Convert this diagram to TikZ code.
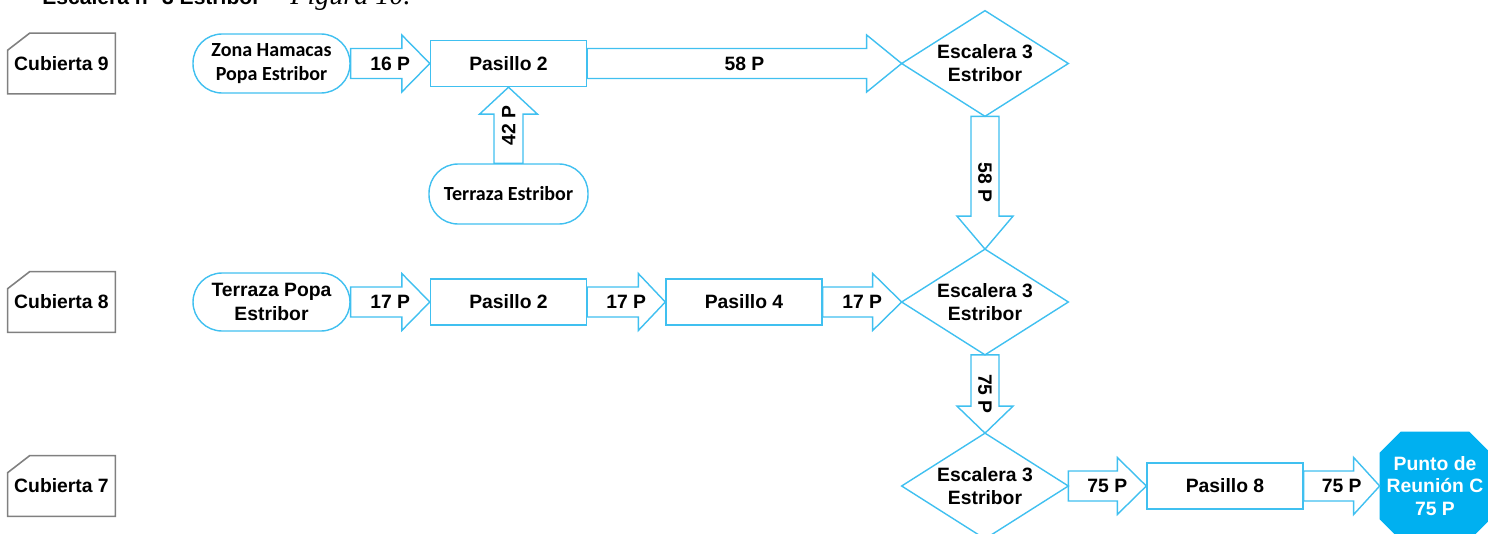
\documentclass[tikz,border=0pt]{standalone}
\usepackage{fontspec}
\setmainfont{Liberation Sans}
\newfontfamily\carlito{Carlito}
\newfontfamily\serifit{Liberation Serif}
\usetikzlibrary{calc,backgrounds}

\definecolor{flowline}{RGB}{64,192,240}
\definecolor{goalfill}{RGB}{0,176,240}
\definecolor{deckline}{RGB}{128,128,128}

% block arrow pointing right: from, to, label, head length
\newcommand\rightflow[4]{%
  \draw[flowarrow] ($(#1)+(0,-15)$) -- ($(#2)+(-#4,-15)$) -- ($(#2)+(-#4,-28.5)$) -- (#2)
    -- ($(#2)+(-#4,28.5)$) -- ($(#2)+(-#4,15)$) -- ($(#1)+(0,15)$) -- cycle;
  \path (#1) -- (#2) node[midway,flowlabel] {#3};}
% block arrow pointing down
\newcommand\downflow[4]{%
  \draw[flowarrow] ($(#1)+(-14,0)$) -- ($(#2)+(-14,-#4)$) -- ($(#2)+(-28,-#4)$) -- (#2)
    -- ($(#2)+(28,-#4)$) -- ($(#2)+(14,-#4)$) -- ($(#1)+(14,0)$) -- cycle;
  \path (#1) -- (#2) node[midway,flowlabel,rotate=-90] {#3};}
% block arrow pointing up
\newcommand\upflow[4]{%
  \draw[flowarrow] ($(#1)+(-14.5,0)$) -- ($(#2)+(-14.5,#4)$) -- ($(#2)+(-29,#4)$) -- (#2)
    -- ($(#2)+(29,#4)$) -- ($(#2)+(14.5,#4)$) -- ($(#1)+(14.5,0)$) -- cycle;
  \path (#1) -- (#2) node[midway,flowlabel,rotate=90] {#3};}

\tikzset{
  basetext/.style={font=\fontsize{11}{13}\selectfont\bfseries, align=center, inner sep=0pt},
  deck/.style={basetext, minimum width=2.14cm, minimum height=1.2cm},
  zone/.style={basetext, font=\carlito\fontsize{11.4}{14}\selectfont\bfseries,
    draw=flowline, fill=white, line width=0.8pt, rounded corners=0.58cm,
    minimum width=3.14cm, minimum height=1.18cm},
  azone/.style={zone, font=\fontsize{11}{14}\selectfont\bfseries},
  passage/.style={basetext, font=\fontsize{11}{13}\selectfont\bfseries,
    draw=flowline, fill=white, line width=0.8pt, minimum width=3.12cm, minimum height=0.92cm},
  stair/.style={basetext, minimum width=3.32cm, minimum height=2.1cm},
  goal/.style={basetext, text=white, minimum width=2.2cm, minimum height=2.16cm},
  flowarrow/.style={draw=flowline, fill=white, line width=0.8pt, line join=miter},
  flowlabel/.style={basetext},
  stairline/.style={draw=flowline, line width=0.8pt},
  deckedge/.style={draw=deckline, line width=0.9pt},
}

\begin{document}
\begin{tikzpicture}[x=0.02cm, y=-0.02cm]
\useasboundingbox (0,0) rectangle (1488,534);
\clip (0,0) rectangle (1488,534);

% heading line, cut by the page top
\node[anchor=base west, font=\fontsize{12}{14}\selectfont\bfseries, inner sep=0pt] (heading) at (42,5) {Escalera n° 3 Estribor};
\node[anchor=base west, font=\serifit\itshape\fontsize{16}{18}\selectfont, inner sep=0pt] (caption) at (290,5) {Figura 10.};

% deck labels
\node[deck] (c9) at (61.5,63.5) {Cubierta 9};
\node[deck] (c8) at (61.5,302) {Cubierta 8};
\node[deck] (c7) at (61.5,486) {Cubierta 7};
\foreach \d in {c9,c8,c7}
  \draw[deckedge] (\d.south west) -- ($(\d.north west)+(0,17)$) -- ($(\d.north west)+(22,0)$)
    -- (\d.north east) -- (\d.south east) -- cycle;

% deck 9
\node[zone] (zona) at (271.5,63.5) {Zona Hamacas\\Popa Estribor};
\node[passage] (p2a) at (508.5,63.5) {Pasillo 2};
\node[stair] (esc1) at (985,63.5) {Escalera 3\\Estribor};
\node[zone, minimum width=3.18cm, minimum height=1.2cm] (terr) at (508.5,194) {Terraza Estribor};

% deck 8
\node[azone, minimum height=1.16cm] (tpe) at (271.5,302) {Terraza Popa\\Estribor};
\node[passage] (p2b) at (508.5,302) {Pasillo 2};
\node[passage] (p4) at (744,302) {Pasillo 4};
\node[stair] (esc2) at (985,302) {Escalera 3\\Estribor};

% deck 7
\node[stair] (esc3) at (985,486) {Escalera 3\\Estribor};
\node[passage] (p8) at (1225,486) {Pasillo 8};
\node[goal] (goal) at (1435,486) {Punto de\\Reunión C\\75 P};

% stair diamonds
\foreach \s in {esc1,esc2,esc3}
  \draw[stairline] (\s.north) -- (\s.east) -- (\s.south) -- (\s.west) -- cycle;

\begin{pgfonlayer}{background}
  \fill[goalfill] ($(goal.north west)+(21,0)$) -- ($(goal.north east)+(-21,0)$)
    -- ($(goal.north east)+(0,21)$) -- ($(goal.south east)+(0,-21)$)
    -- ($(goal.south east)+(-21,0)$) -- ($(goal.south west)+(21,0)$)
    -- ($(goal.south west)+(0,-21)$) -- ($(goal.north west)+(0,21)$) -- cycle;

  \rightflow{zona.east}{p2a.west}{16 P}{28}
  \rightflow{p2a.east}{esc1.west}{58 P}{35}
  \upflow{terr.north}{p2a.south}{42 P}{27}
  \downflow{esc1.south}{esc2.north}{58 P}{33}

  \rightflow{tpe.east}{p2b.west}{17 P}{28}
  \rightflow{p2b.east}{p4.west}{17 P}{27}
  \rightflow{p4.east}{esc2.west}{17 P}{29}
  \downflow{esc2.south}{esc3.north}{75 P}{27}

  \rightflow{esc3.east}{p8.west}{75 P}{29}
  \rightflow{p8.east}{goal.west}{75 P}{26}
\end{pgfonlayer}
\end{tikzpicture}
\end{document}
